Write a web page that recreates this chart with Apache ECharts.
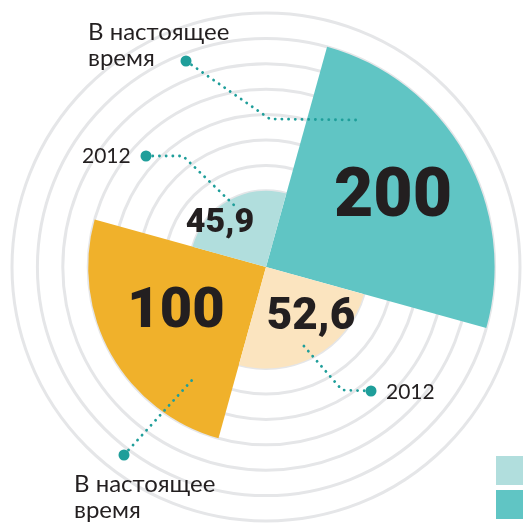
<!DOCTYPE html>
<html>
<head>
<meta charset="utf-8">
<script src="https://cdn.jsdelivr.net/npm/echarts@6/dist/echarts.min.js"></script>
<style>
html,body{margin:0;padding:0;background:#fff;}
#chart{width:523px;height:526px;}
</style>
</head>
<body>
<div id="chart"></div>
<script>
// Sectors, clockwise from the top-right one
const categories = ['Бирюзовый сейчас', 'Оранжевый 2012', 'Оранжевый сейчас', 'Бирюзовый 2012'];
const seriesNames = ['2012', 'В настоящее время'];
// Value shown in each sector
const valueLabels = ['200', '52,6', '100', '45,9'];
// Sector length in rings, as drawn in the picture
const nowRings = [9, '-', 7, '-'];
const y2012Rings = ['-', 4, '-', 3];
const ringTicks = [0, 10, 1]; // min, max, interval
const calloutTexts = ['В настоящее\nвремя', '2012', '2012', 'В настоящее\nвремя'];

const TEAL = '#60c5c4', TEAL_L = '#b1dedd', ORANGE = '#f0b12b', ORANGE_L = '#fbe4bf';
const INK = '#231f20', DOT = '#1f9e9a';

const chart = echarts.init(document.getElementById('chart'), null, {renderer: 'canvas'});

const nowColors = [TEAL, null, ORANGE, null];
const oldColors = [null, ORANGE_L, null, TEAL_L];

function items(arr, colors) {
  return arr.map((v, i) => v === '-' ? '-' : {value: v, itemStyle: {color: colors[i]}});
}

function dotted(points) {
  return {type: 'polyline', shape: {points: points}, z: 10,
    style: {stroke: DOT, lineWidth: 2.8, lineDash: [0.1, 6.6], lineCap: 'round', fill: null}};
}
function dot(x, y) {
  return {type: 'circle', shape: {cx: x, cy: y, r: 5.5}, z: 11, style: {fill: DOT}};
}
function txt(t, x, y, size, weight, align) {
  return {type: 'text', x: x, y: y, z: 12, style: {text: t, fill: INK,
    font: weight + ' ' + size + 'px ' + (weight === 'normal' ? 'Lato, "Noto Sans", sans-serif' : 'Roboto, "Liberation Sans", sans-serif'),
    textAlign: align || 'center', textVerticalAlign: 'middle', lineHeight: 26}};
}

const option = {
  animation: false,
  backgroundColor: '#fff',
  polar: {center: [266, 267], radius: 254},
  angleAxis: {
    type: 'category', data: categories, startAngle: 74.5, clockwise: true,
    axisLine: {show: false}, axisTick: {show: false}, axisLabel: {show: false}, splitLine: {show: false}
  },
  radiusAxis: {
    min: ringTicks[0], max: ringTicks[1], interval: ringTicks[2],
    axisLine: {show: false}, axisTick: {show: false}, axisLabel: {show: false},
    splitLine: {show: true, lineStyle: {color: '#e5e6e8', width: 3}}
  },
  legend: {
    data: seriesNames, orient: 'vertical', left: 496, top: 456, padding: 0,
    itemWidth: 30, itemHeight: 29, itemGap: 5, icon: 'rect',
    formatter: () => '', selectedMode: false
  },
  series: [
    {name: seriesNames[1], type: 'bar', coordinateSystem: 'polar', barCategoryGap: '0%', barGap: '-100%',
      itemStyle: {color: TEAL}, data: items(nowRings, nowColors), z: 2},
    {name: seriesNames[0], type: 'bar', coordinateSystem: 'polar', barCategoryGap: '0%', barGap: '-100%',
      itemStyle: {color: TEAL_L}, data: items(y2012Rings, oldColors), z: 2}
  ],
  graphic: [
    dotted([[186, 61], [270, 119], [357, 120]]), dot(186, 61),
    dotted([[146, 156], [183, 156], [236, 207]]), dot(146, 156),
    dotted([[371, 391], [342, 390], [303, 345]]), dot(371, 391),
    dotted([[124, 455], [193, 379]]), dot(124, 455),
    txt(valueLabels[0], 393, 199, 68, '900'),
    txt(valueLabels[1], 311, 318, 44, '900'),
    txt(valueLabels[2], 176, 313, 56, '900'),
    txt(valueLabels[3], 220, 223, 34, '900'),
    txt(calloutTexts[0], 88, 45, 24, 'normal', 'left'),
    txt(calloutTexts[1], 82, 156, 21, 'normal', 'left'),
    txt(calloutTexts[2], 386, 392, 21, 'normal', 'left'),
    txt(calloutTexts[3], 74, 497, 24, 'normal', 'left')
  ]
};
chart.setOption(option);
</script>
</body>
</html>
